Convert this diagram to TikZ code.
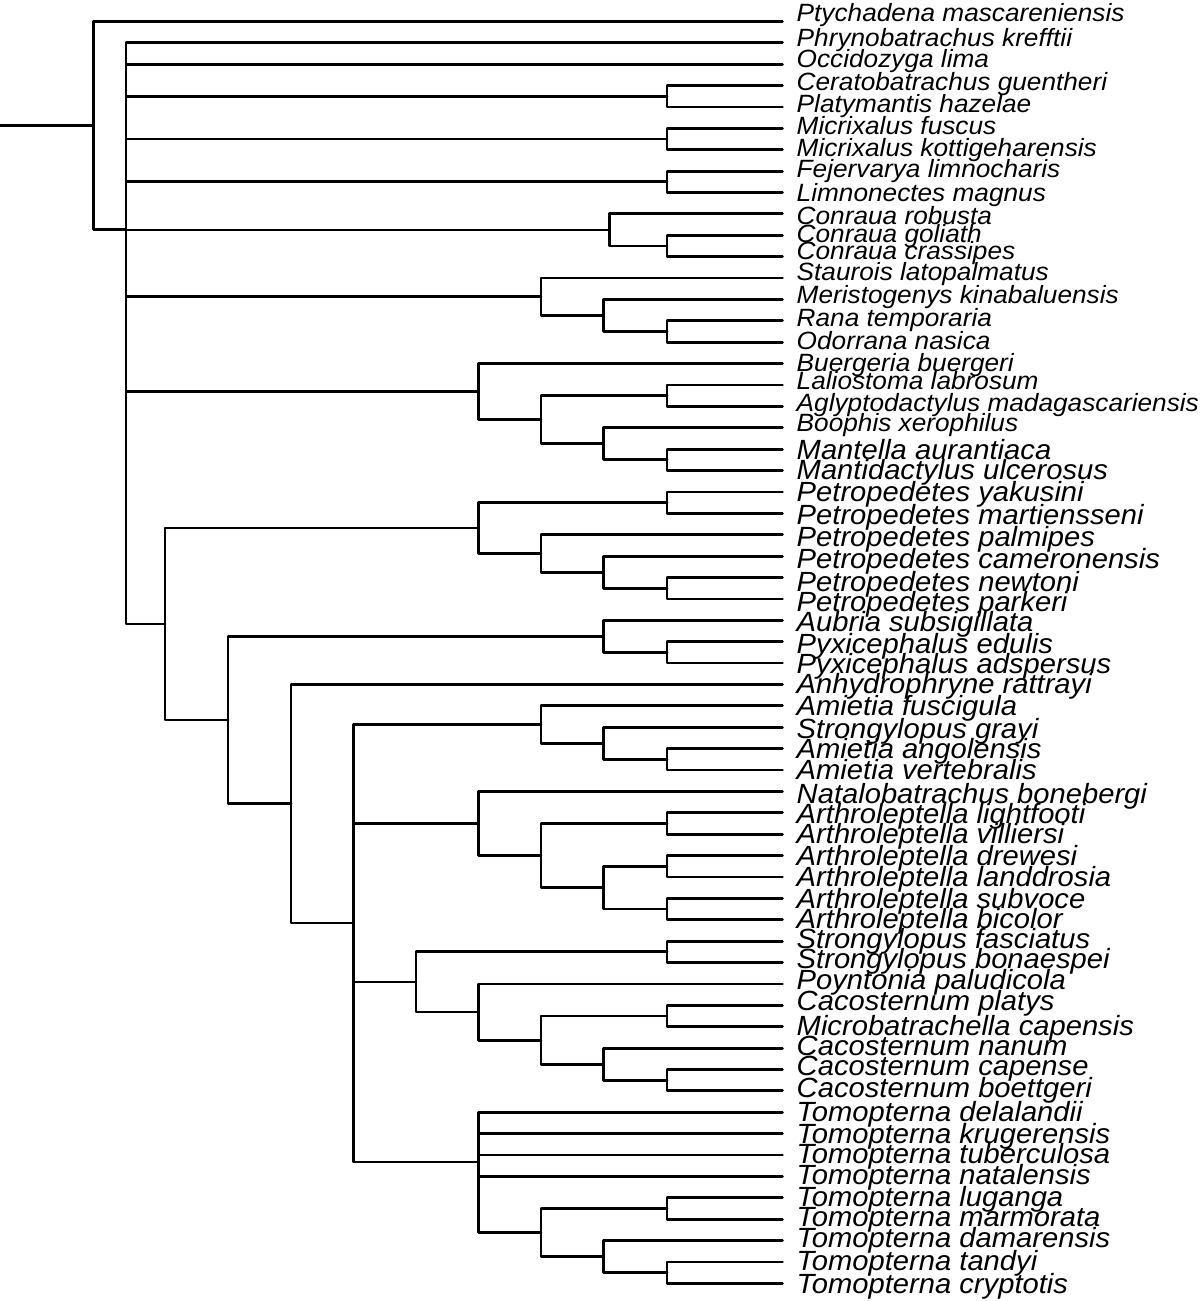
\documentclass[tikz,border=0pt]{standalone}
\usepackage{fontspec}
\newfontfamily\taxonfont[FakeStretch=1.05]{Liberation Sans}
\usepackage{tikz}

\begin{document}
\begin{tikzpicture}[
    x=0.01cm, y=-0.01cm,
    branch/.style={line width=0.8pt, line cap=round, line join=round},
    taxon/.style={font=\taxonfont\itshape\fontsize{7.1}{8.5}\selectfont, anchor=base west, inner sep=0pt},
    bigtaxon/.style={font=\taxonfont\itshape\fontsize{7.9}{9.5}\selectfont},
]
\def\rowh{21.39}
\useasboundingbox (0,0) rectangle (1200,1301);

% =====================================================================
% Tips: one row per taxon, all ending on the same line
% =====================================================================
\foreach \i in {1,...,60} {
    \coordinate (t\i) at (782.5, \i*\rowh);
}

% =====================================================================
% Internal nodes (x = depth, y = mean row of the children)
% =====================================================================
\coordinate (stem)     at (0,     5.8674*\rowh);
\coordinate (root)     at (93.5,  5.8674*\rowh);
\coordinate (ranoid)   at (126,   10.7347*\rowh);
\coordinate (cerat)    at (667,   4.5*\rowh);
\coordinate (micrix)   at (667,   6.5*\rowh);
\coordinate (dicrog)   at (667,   8.5*\rowh);
\coordinate (conraua)  at (609.5, 10.75*\rowh);
\coordinate (congol)   at (667,   11.5*\rowh);
\coordinate (ranid)    at (541,   13.875*\rowh);
\coordinate (merist)   at (603.5, 14.75*\rowh);
\coordinate (rana)     at (667,   15.5*\rowh);
\coordinate (mantel)   at (478.5, 18.3125*\rowh);
\coordinate (mantA)    at (541,   19.625*\rowh);
\coordinate (lalio)    at (667,   18.5*\rowh);
\coordinate (booph)    at (603.5, 20.75*\rowh);
\coordinate (mantella) at (667,   21.5*\rowh);
% African clade
\coordinate (afr)      at (165,   29.1752*\rowh);
\coordinate (petro)    at (478.5, 24.6875*\rowh);
\coordinate (petA)     at (667,   23.5*\rowh);
\coordinate (petB)     at (541,   25.875*\rowh);
\coordinate (petC)     at (603.5, 26.75*\rowh);
\coordinate (petD)     at (667,   27.5*\rowh);
\coordinate (pyxi)     at (228,   33.6629*\rowh);
\coordinate (pyxc)     at (603.5, 29.75*\rowh);
\coordinate (pyxd)     at (667,   30.5*\rowh);
\coordinate (cacos)    at (291,   37.5758*\rowh);
\coordinate (core)     at (353.5, 43.1516*\rowh);
\coordinate (amiA)     at (541,   33.875*\rowh);
\coordinate (amiB)     at (603.5, 34.75*\rowh);
\coordinate (amiC)     at (667,   35.5*\rowh);
\coordinate (natal)    at (478.5, 38.5*\rowh);
\coordinate (arthA)    at (541,   40*\rowh);
\coordinate (arthB)    at (667,   38.5*\rowh);
\coordinate (arthC)    at (603.5, 41.5*\rowh);
\coordinate (arthD)    at (667,   40.5*\rowh);
\coordinate (arthE)    at (667,   42.5*\rowh);
\coordinate (strong)   at (416,   45.9063*\rowh);
\coordinate (strB)     at (667,   44.5*\rowh);
\coordinate (poyn)     at (478.5, 47.3125*\rowh);
\coordinate (cacA)     at (541,   48.625*\rowh);
\coordinate (cacB)     at (667,   47.5*\rowh);
\coordinate (cacC)     at (603.5, 49.75*\rowh);
\coordinate (cacD)     at (667,   50.5*\rowh);
\coordinate (tomo)     at (478.5, 54.325*\rowh);
\coordinate (tomA)     at (541,   57.625*\rowh);
\coordinate (tomB)     at (667,   56.5*\rowh);
\coordinate (tomC)     at (603.5, 58.75*\rowh);
\coordinate (tomD)     at (667,   59.5*\rowh);

% =====================================================================
% Branches (parent -> child, elbow style)
% =====================================================================
\draw[branch] (stem) -- (root);
\foreach \p/\c in {root/t1, root/ranoid,
    ranoid/t2, ranoid/t3, ranoid/cerat, ranoid/micrix, ranoid/dicrog,
    ranoid/conraua, ranoid/ranid, ranoid/mantel, ranoid/afr,
    cerat/t4, cerat/t5, micrix/t6, micrix/t7, dicrog/t8, dicrog/t9,
    conraua/t10, conraua/congol, congol/t11, congol/t12,
    ranid/t13, ranid/merist, merist/t14, merist/rana, rana/t15, rana/t16,
    mantel/t17, mantel/mantA, mantA/lalio, lalio/t18, lalio/t19,
    mantA/booph, booph/t20, booph/mantella, mantella/t21, mantella/t22,
    afr/petro, afr/pyxi,
    petro/petA, petA/t23, petA/t24, petro/petB, petB/t25, petB/petC,
    petC/t26, petC/petD, petD/t27, petD/t28,
    pyxi/pyxc, pyxc/t29, pyxc/pyxd, pyxd/t30, pyxd/t31, pyxi/cacos,
    cacos/t32, cacos/core,
    core/amiA, amiA/t33, amiA/amiB, amiB/t34, amiB/amiC, amiC/t35, amiC/t36,
    core/natal, natal/t37, natal/arthA, arthA/arthB, arthB/t38, arthB/t39,
    arthA/arthC, arthC/arthD, arthD/t40, arthD/t41, arthC/arthE, arthE/t42, arthE/t43,
    core/strong, strong/strB, strB/t44, strB/t45, strong/poyn, poyn/t46,
    poyn/cacA, cacA/cacB, cacB/t47, cacB/t48, cacA/cacC, cacC/t49,
    cacC/cacD, cacD/t50, cacD/t51,
    core/tomo, tomo/t52, tomo/t53, tomo/t54, tomo/t55, tomo/tomA,
    tomA/tomB, tomB/t56, tomB/t57, tomA/tomC, tomC/t58, tomC/tomD,
    tomD/t59, tomD/t60} {
    \draw[branch] (\p) |- (\c);
}

% =====================================================================
% Taxon labels
% =====================================================================
\foreach \ly/\name [count=\i] in {
    22/Ptychadena mascareniensis, 46.7/Phrynobatrachus krefftii,
    68/Occidozyga lima, 90.5/Ceratobatrachus guentheri,
    113/Platymantis hazelae, 135/Micrixalus fuscus,
    156.5/Micrixalus kottigeharensis, 178/Fejervarya limnocharis,
    201.5/Limnonectes magnus, 225/Conraua robusta,
    243/Conraua goliath, 260/Conraua crassipes,
    281/Staurois latopalmatus, 303.5/Meristogenys kinabaluensis,
    327/Rana temporaria, 350/Odorrana nasica,
    371.7/Buergeria buergeri, 389.3/Laliostoma labrosum,
    411.7/Aglyptodactylus madagascariensis, 431.7/Boophis xerophilus} {
    \node[taxon] (l\i) at (796,\ly) {\name};
}
\foreach \ly/\name [count=\i from 21] in {
    460/Mantella aurantiaca, 480/Mantidactylus ulcerosus,
    501.7/Petropedetes yakusini, 525/Petropedetes martiensseni,
    546.7/Petropedetes palmipes, 568.3/Petropedetes cameronensis,
    591.7/Petropedetes newtoni, 611.7/Petropedetes parkeri,
    631.7/Aubria subsigillata, 653.3/Pyxicephalus edulis,
    673.3/Pyxicephalus adspersus, 693.3/Anhydrophryne rattrayi,
    715/Amietia fuscigula, 738.3/Strongylopus grayi,
    758.3/Amietia angolensis, 779.3/Amietia vertebralis,
    803.3/Natalobatrachus bonebergi, 823.3/Arthroleptella lightfooti,
    843.3/Arthroleptella villiersi, 865/Arthroleptella drewesi,
    886.7/Arthroleptella landdrosia, 908.3/Arthroleptella subvoce,
    928.3/Arthroleptella bicolor, 948.3/Strongylopus fasciatus,
    968.3/Strongylopus bonaespei, 989.3/Poyntonia paludicola,
    1010.7/Cacosternum platys, 1035/Microbatrachella capensis,
    1055/Cacosternum nanum, 1075/Cacosternum capense,
    1097.7/Cacosternum boettgeri, 1121/Tomopterna delalandii,
    1143.3/Tomopterna krugerensis, 1163.3/Tomopterna tuberculosa,
    1184.3/Tomopterna natalensis, 1206.7/Tomopterna luganga,
    1226.7/Tomopterna marmorata, 1247.7/Tomopterna damarensis,
    1270/Tomopterna tandyi, 1293.3/Tomopterna cryptotis} {
    \node[taxon, bigtaxon] (l\i) at (796,\ly) {\name};
}

\end{tikzpicture}
\end{document}
